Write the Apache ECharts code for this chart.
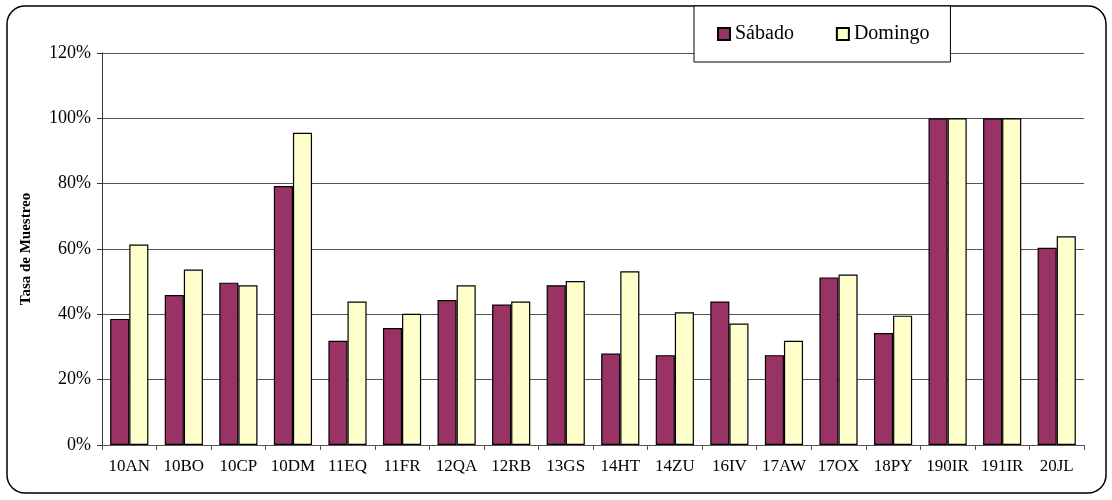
<!DOCTYPE html>
<html>
<head>
<meta charset="utf-8">
<script src="https://cdn.jsdelivr.net/npm/echarts@6/dist/echarts.min.js"></script>
<style>
  html, body { margin: 0; padding: 0; background: #fff; }
  #chart { width: 1112px; height: 500px; }
</style>
</head>
<body>
<div id="chart"></div>
<script>
// categorías (puntos de muestreo)
const categories = ['10AN', '10BO', '10CP', '10DM', '11EQ', '11FR', '12QA', '12RB', '13GS',
  '14HT', '14ZU', '16IV', '17AW', '17OX', '18PY', '190IR', '191IR', '20JL']

// tasa de muestreo (%)
const sabado = [38.6, 45.9, 49.7, 79.3, 31.9, 35.8, 44.4, 43.0, 48.9,
  28.0, 27.5, 43.9, 27.5, 51.3, 34.3, 100, 100, 60.4]
const domingo = [61.4, 53.7, 48.9, 95.6, 43.9, 40.2, 48.9, 43.9, 50.2,
  53.2, 40.6, 37.2, 31.9, 52.2, 39.6, 100, 100, 63.9]

const yTicks = [0, 20, 40, 60, 80, 100, 120]

const serif = "'Liberation Serif', 'Times New Roman', serif"

const chart = echarts.init(document.getElementById('chart'))

const option = {
  animation: false,
  backgroundColor: '#fff',
  textStyle: { fontFamily: serif, color: '#000' },
  graphic: [
    {
      type: 'rect',
      z: 0,
      shape: { x: 7, y: 6, width: 1099, height: 487, r: 18 },
      style: { fill: 'none', stroke: '#000', lineWidth: 1.5 },
    },
  ],
  legend: {
    left: 694,
    top: 6,
    z: 10,
    padding: [18, 21, 18, 23],
    itemGap: 42,
    itemWidth: 12,
    itemHeight: 12,
    icon: 'rect',
    backgroundColor: '#fff',
    borderColor: '#000',
    borderWidth: 1,
    textStyle: { fontFamily: serif, fontSize: 20, color: '#000' },
    data: ['Sábado', 'Domingo'],
  },
  grid: {
    left: 102,
    right: 28,
    top: 53,
    bottom: 55,
  },
  xAxis: {
    type: 'category',
    data: categories,
    axisLine: { lineStyle: { color: '#555', width: 1 } },
    axisTick: { show: true, length: 5, lineStyle: { color: '#555' } },
    axisLabel: { fontFamily: serif, fontSize: 17, color: '#000', margin: 13, interval: 0 },
  },
  yAxis: {
    type: 'value',
    min: yTicks[0],
    max: yTicks[yTicks.length - 1],
    interval: 20,
    name: 'Tasa de Muestreo',
    nameLocation: 'middle',
    nameRotate: 90,
    nameGap: 68,
    nameTextStyle: { fontFamily: serif, fontSize: 15, fontWeight: 'bold', color: '#000' },
    axisLine: { show: true, lineStyle: { color: '#333', width: 1 } },
    axisTick: { show: true, length: 5, lineStyle: { color: '#333' } },
    axisLabel: { fontFamily: serif, fontSize: 18, color: '#000', margin: 11, formatter: '{value}%' },
    splitLine: { lineStyle: { color: '#555', width: 1 } },
  },
  series: [
    {
      name: 'Sábado',
      type: 'bar',
      data: sabado,
      barGap: '0%',
      barCategoryGap: '30%',
      itemStyle: { color: '#993366', borderColor: '#000', borderWidth: 1.2 },
    },
    {
      name: 'Domingo',
      type: 'bar',
      data: domingo,
      barGap: '0%',
      barCategoryGap: '30%',
      itemStyle: { color: '#FFFFCC', borderColor: '#000', borderWidth: 1.2 },
    },
  ],
}

chart.setOption(option)
</script>
</body>
</html>
